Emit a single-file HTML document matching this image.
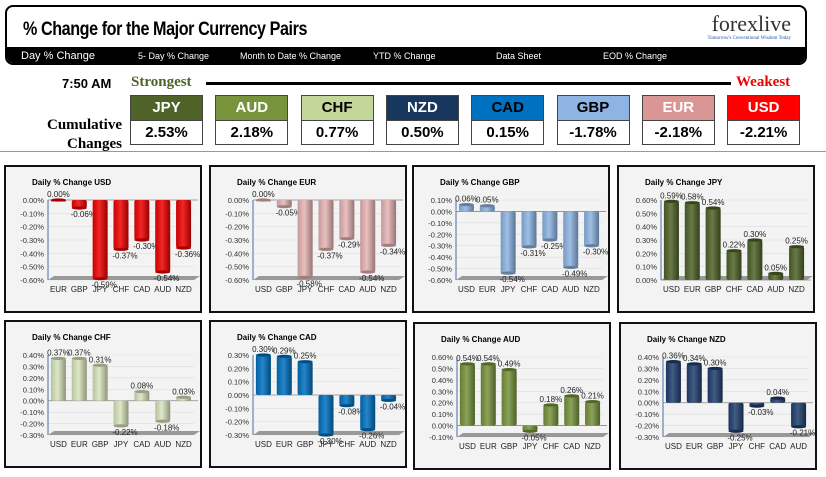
<!DOCTYPE html>
<html><head><meta charset="utf-8">
<style>
body{margin:0;width:826px;height:477px;background:#fff;position:relative;overflow:hidden;font-family:"Liberation Sans",sans-serif}
.abs{position:absolute}
.hdr{left:5px;top:5px;width:802px;height:60px;border:2px solid #000;border-radius:8px;box-sizing:border-box;overflow:hidden}
.title{left:16px;top:12px;font:bold 19px "Liberation Sans Narrow","Liberation Sans",sans-serif;letter-spacing:-0.5px;transform:scaleX(0.85);transform-origin:left}
.bar{left:0;top:40px;width:100%;height:18px;background:#000;color:#fff;font-size:9px}
.bar span{position:absolute;top:4px}
.cur{width:73px;height:50px;border:1px solid #444;box-sizing:border-box}
.cur .h{height:24px;font:bold 15px "Liberation Sans",sans-serif;text-align:center;line-height:24px;border-bottom:1px solid #444}
.cur .v{height:24px;font:bold 15px "Liberation Sans",sans-serif;text-align:center;line-height:24px}
.panel{border:2px solid #111;box-sizing:border-box;background:#f3f3f3}
</style></head><body>
<div class="abs hdr">
 <div class="abs title">% Change for the Major Currency Pairs</div>
 <div class="abs" style="right:14px;top:4px;font:22px 'Liberation Serif',serif;color:#333">forexlive</div>
 <div class="abs" style="right:14px;top:29px;font:5px 'Liberation Serif',serif;color:#2255aa">Tomorrow's Conventional Wisdom Today</div>
 <div class="abs bar">
  <span style="left:14px;font-size:11px;top:3px">Day % Change</span>
  <span style="left:131px">5- Day % Change</span>
  <span style="left:233px">Month to Date % Change</span>
  <span style="left:366px">YTD % Change</span>
  <span style="left:489px">Data Sheet</span>
  <span style="left:596px">EOD % Change</span>
 </div>
</div>
<div class="abs" style="left:62px;top:76px;font:bold 13px 'Liberation Sans Narrow',sans-serif">7:50 AM</div>
<div class="abs" style="left:131px;top:74px;font:bold 15px 'Liberation Serif',serif;color:#4f6228">Strongest</div>
<div class="abs" style="left:206px;top:82px;width:525px;height:3px;background:#000"></div>
<div class="abs" style="left:736px;top:74px;font:bold 15px 'Liberation Serif',serif;color:#e00">Weakest</div>
<div class="abs" style="left:44px;top:116px;font:bold 15px 'Liberation Serif',serif;text-align:right;width:78px;line-height:19px">Cumulative Changes</div>
<div class="abs" style="left:0;top:151px;width:826px;height:1px;background:#999"></div>
<div id="curs"></div>
<div id="panels"></div>
<script>
const rankCur=["JPY","AUD","CHF","NZD","CAD","GBP","EUR","USD"];
const rankVal=["2.53%","2.18%","0.77%","0.50%","0.15%","-1.78%","-2.18%","-2.21%"];
const rankBg=["#4f6228","#77933c","#c4d79b","#17375e","#0070c0","#8db4e2","#da9694","#ff0000"];
const rankFg=["#fff","#fff","#000","#fff","#000","#000","#fff","#fff"];
const cx=document.getElementById('curs');
rankCur.forEach((c,i)=>{
 const d=document.createElement('div');d.className='abs cur';
 d.style.left=(130+i*85.3)+'px';d.style.top='95px';
 
 
 d.innerHTML='<div class="h" style="background:'+rankBg[i]+';color:'+rankFg[i]+'">'+c+'</div><div class="v">'+rankVal[i]+'</div>';
 cx.appendChild(d);
});

const pUSD_cats=["EUR","GBP","JPY","CHF","CAD","AUD","NZD"], pUSD_vals=[0,-0.06,-0.59,-0.37,-0.30,-0.54,-0.36];
const pEUR_cats=["USD","GBP","JPY","CHF","CAD","AUD","NZD"], pEUR_vals=[0,-0.05,-0.58,-0.37,-0.29,-0.54,-0.34];
const pGBP_cats=["USD","EUR","JPY","CHF","CAD","AUD","NZD"], pGBP_vals=[0.06,0.05,-0.54,-0.31,-0.25,-0.49,-0.30];
const pJPY_cats=["USD","EUR","GBP","CHF","CAD","AUD","NZD"], pJPY_vals=[0.59,0.58,0.54,0.22,0.30,0.05,0.25];
const pCHF_cats=["USD","EUR","GBP","JPY","CAD","AUD","NZD"], pCHF_vals=[0.37,0.37,0.31,-0.22,0.08,-0.18,0.03];
const pCAD_cats=["USD","EUR","GBP","JPY","CHF","AUD","NZD"], pCAD_vals=[0.30,0.29,0.25,-0.30,-0.08,-0.26,-0.04];
const pAUD_cats=["USD","EUR","GBP","JPY","CHF","CAD","NZD"], pAUD_vals=[0.54,0.54,0.49,-0.05,0.18,0.26,0.21];
const pNZD_cats=["USD","EUR","GBP","JPY","CHF","CAD","AUD"], pNZD_vals=[0.36,0.34,0.30,-0.25,-0.03,0.04,-0.21];
const axisMax=[0,0,0.1,0.6,0.4,0.3,0.6,0.4];
const axisMin=[-0.6,-0.6,-0.6,0,-0.3,-0.3,-0.1,-0.3];
const panelNames=["USD","EUR","GBP","JPY","CHF","CAD","AUD","NZD"];
const panelCats=[pUSD_cats,pEUR_cats,pGBP_cats,pJPY_cats,pCHF_cats,pCAD_cats,pAUD_cats,pNZD_cats];
const panelVals=[pUSD_vals,pEUR_vals,pGBP_vals,pJPY_vals,pCHF_vals,pCAD_vals,pAUD_vals,pNZD_vals];
const panelColor=["#ee0000","#e6b4b4","#8db4e2","#4f6228","#d7e4bc","#0070c0","#77933c","#1f3f6e"];
const panelX=[4,209,412,617,4,209,413,619], panelY=[165,165,165,165,320,320,322,322];
const NS='http://www.w3.org/2000/svg';
function el(t,a,p){const e=document.createElementNS(NS,t);for(const k in a)e.setAttribute(k,a[k]);p.appendChild(e);return e;}
function shade(hex,f){let n=parseInt(hex.slice(1),16);let r=n>>16,g=(n>>8)&255,b=n&255;const m=v=>Math.max(0,Math.min(255,Math.round(f<0?v*(1+f):v+(255-v)*f)));return 'rgb('+m(r)+','+m(g)+','+m(b)+')';}
const host=document.getElementById('panels');
panelNames.forEach((nm,pi)=>{
 const w=198,h=148;
 const d=document.createElement('div');d.className='abs panel';
 d.style.left=panelX[pi]+'px';d.style.top=panelY[pi]+'px';d.style.width=w+'px';d.style.height=h+'px';
 
 
 host.appendChild(d);
 const s=el('svg',{width:w-4,height:h-4,style:'position:absolute;left:0;top:0;font-family:Liberation Sans,sans-serif'},d);
 const t=el('text',{x:26,y:18,'font-size':8,'font-weight':'bold'},s);t.textContent='Daily % Change '+nm;
 
 
 const x0=42,x1=188,top=33,bot=113;
 const mx=axisMax[pi],mn=axisMin[pi];
 const y=v=>top+(mx-v)/(mx-mn)*(bot-top);
 for(let k=0;k<=Math.round((mx-mn)*10);k++){const v=mx-k*0.1;
  el('line',{x1:x0,x2:x1,y1:y(v),y2:y(v),stroke:'#ddd','stroke-width':0.6},s);
  const tl=el('text',{x:x0-4,y:y(v)+3,'font-size':7.5,'text-anchor':'end',fill:'#333'},s);tl.textContent=v.toFixed(2).replace('-0.00','0.00')+'%';
 }
 el('line',{x1:x0,x2:x0,y1:top,y2:bot,stroke:'#4a6fa5','stroke-width':1},s);
 el('polygon',{points:`${x0},${bot} ${x1},${bot} ${x1+6},${bot-4} ${x0+6},${bot-4}`,fill:'#999'},s);
 el('line',{x1:x0,x2:x1+4,y1:y(0),y2:y(0),stroke:'#888','stroke-width':0.8},s);
 const cats=panelCats[pi],vals=panelVals[pi],n=cats.length,bw=(x1-x0)/n;
 const gid='g'+pi;const g=el('linearGradient',{id:gid,x1:0,x2:1,y1:0,y2:0},el('defs',{},s));
 el('stop',{offset:'0','stop-color':shade(panelColor[pi],-0.15)},g);
 el('stop',{offset:'0.45','stop-color':shade(panelColor[pi],0.15)},g);
 el('stop',{offset:'1','stop-color':shade(panelColor[pi],-0.35)},g);
 vals.forEach((v,i)=>{
  const cxp=x0+bw*(i+0.5),bx=cxp-bw*0.36,bww=bw*0.72;
  const ya=y(Math.max(v,0)),yb=y(Math.min(v,0));
  const r=el('rect',{x:bx,y:ya,width:bww,height:Math.max(yb-ya,1.5),fill:'url(#'+gid+')',rx:2},s);
  
  
  el('ellipse',{cx:cxp,cy:v>=0?ya:yb,rx:bww/2,ry:1.6,fill:shade(panelColor[pi],-0.3)},s);
  const lb=el('text',{x:cxp+(v<0?4:0),y:v>=0?ya-3:yb+9,'font-size':8,'text-anchor':'middle',fill:'#222'},s);lb.textContent=v.toFixed(2)+'%';
  const cl=el('text',{x:cxp,y:bot+12,'font-size':8,'text-anchor':'middle',fill:'#222'},s);cl.textContent=cats[i];
 });
});
</script>
</body></html>
